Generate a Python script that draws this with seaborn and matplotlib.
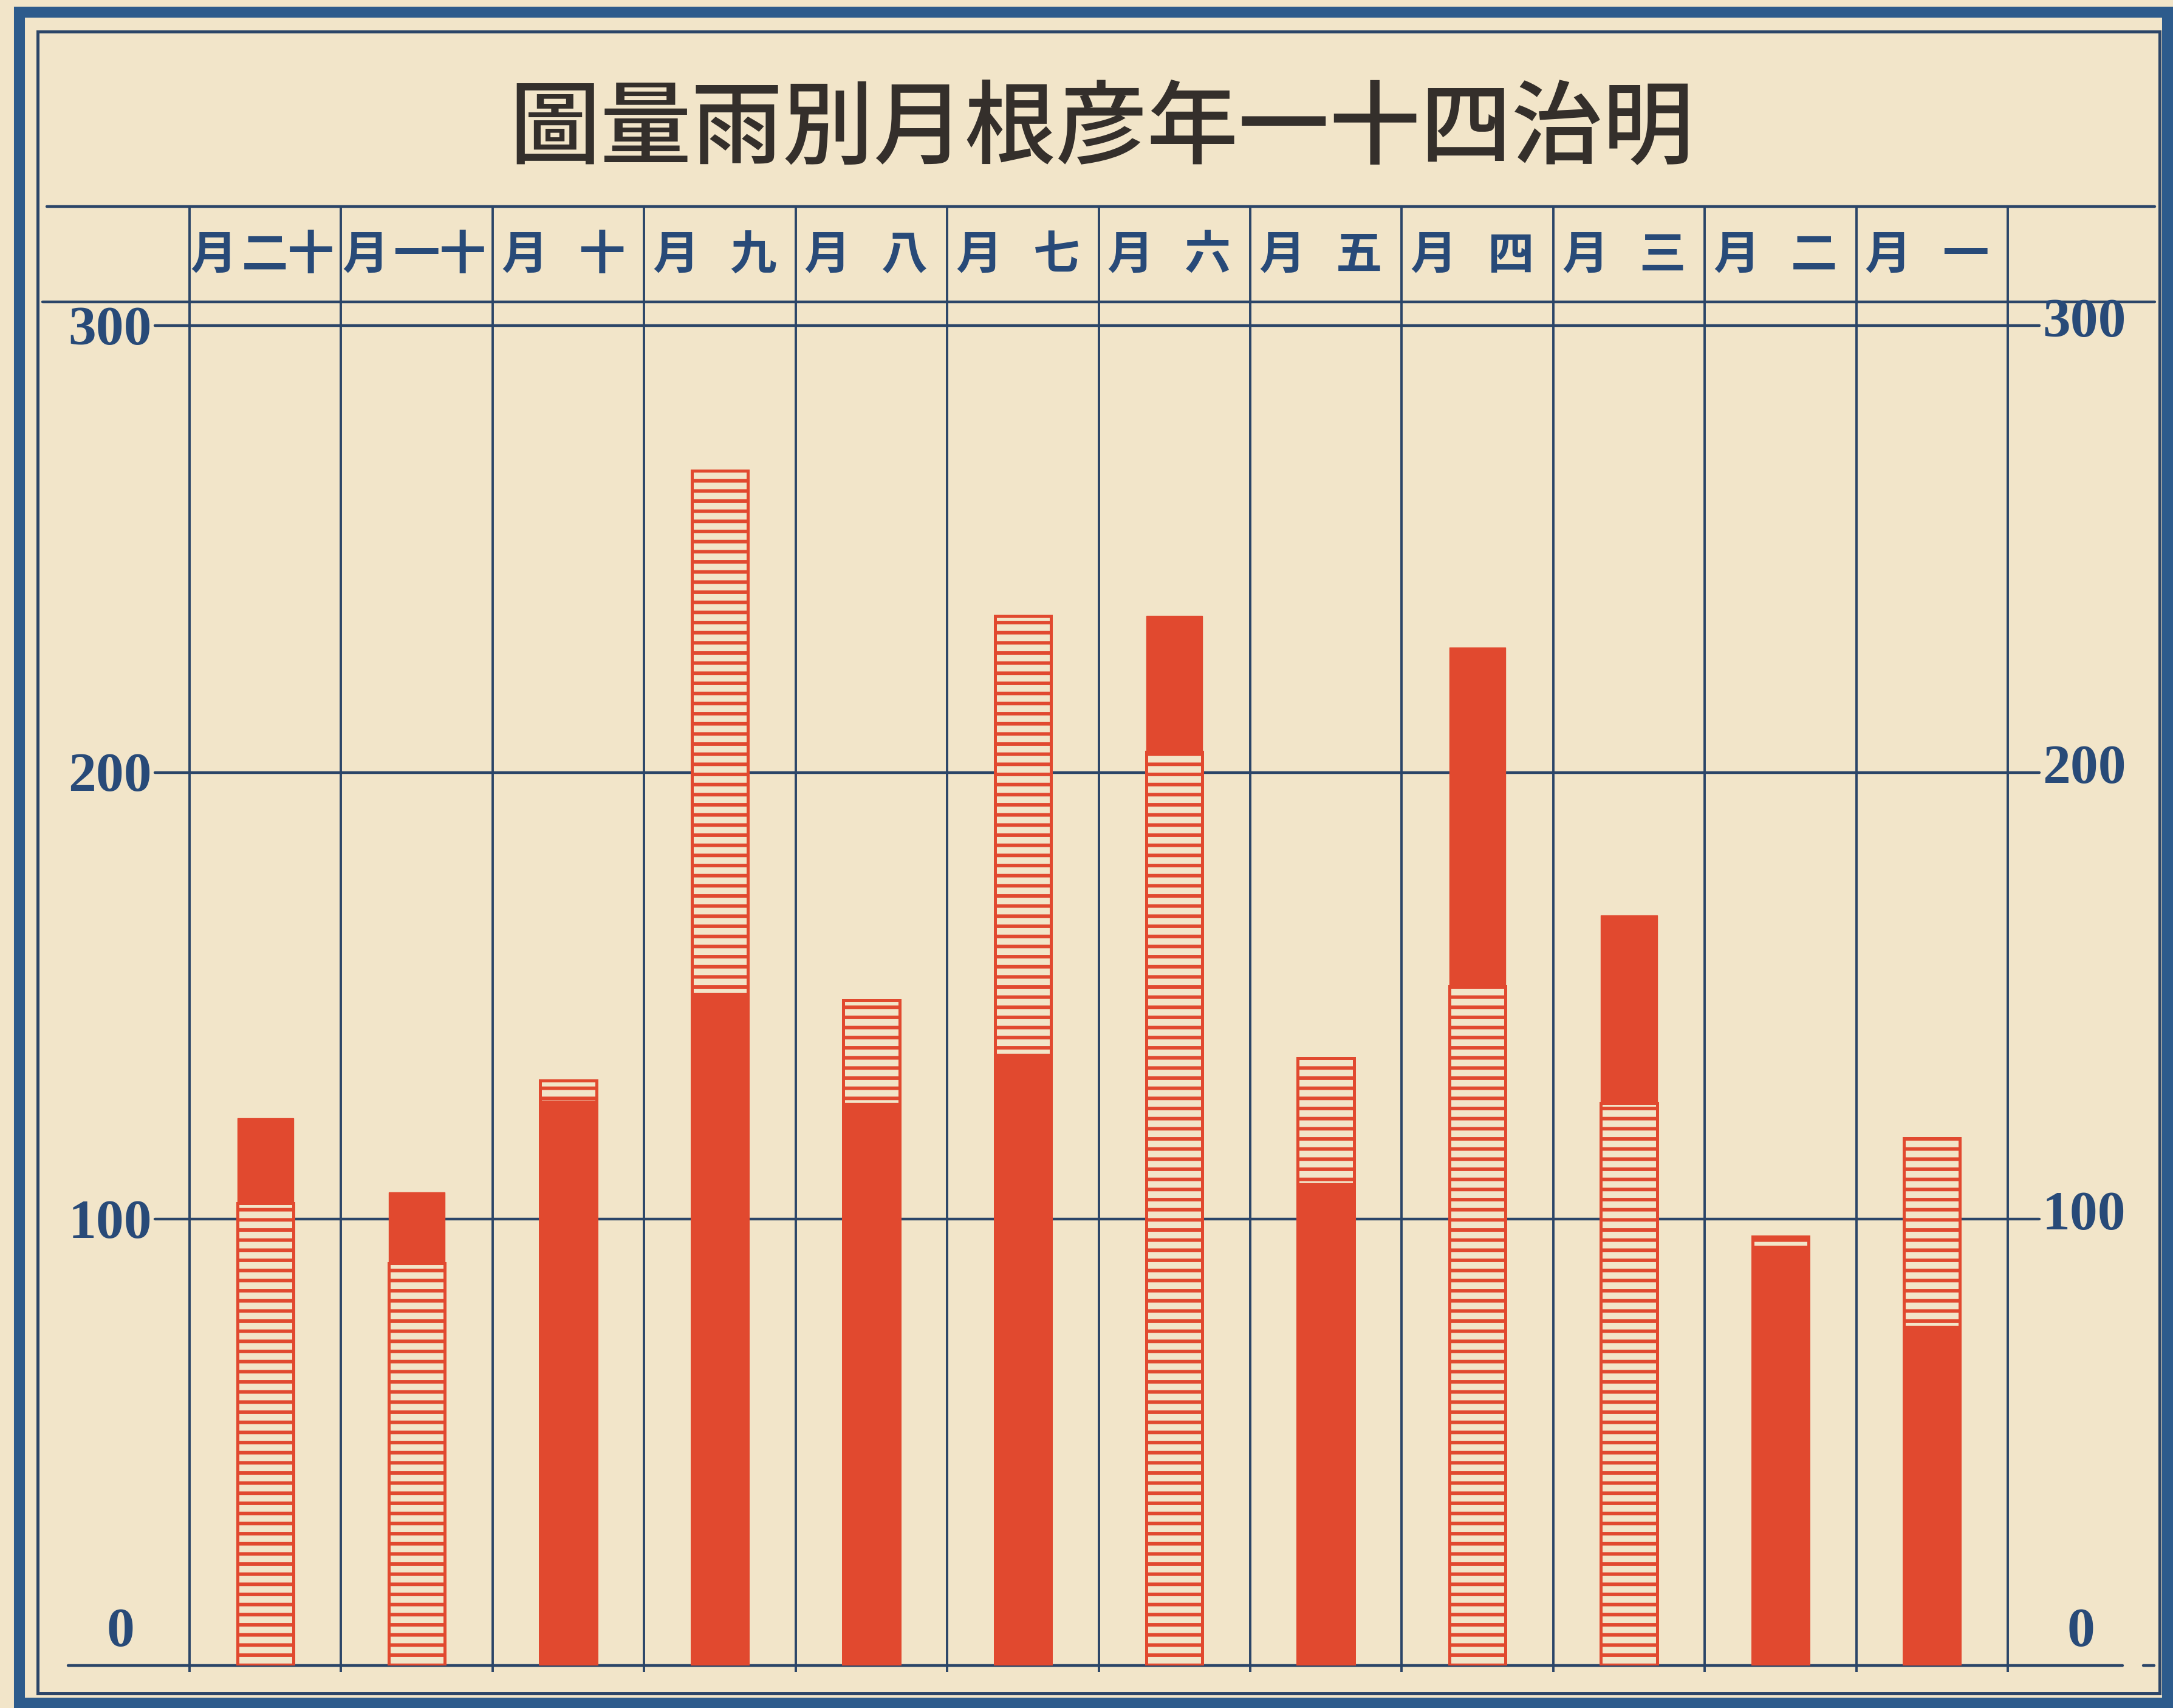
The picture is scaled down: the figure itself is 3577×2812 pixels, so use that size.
"""
明治四十一年 彦根 月別雨量圖 の再現
"""
import numpy as np
import pandas as pd
import matplotlib
matplotlib.use('Agg')
import matplotlib.pyplot as plt
import seaborn as sns
from matplotlib.patches import Rectangle
from matplotlib.transforms import blended_transform_factory

# --- データ（一月〜十二月） ---
months = ['一月', '二月', '三月', '四月', '五月', '六月',
          '七月', '八月', '九月', '十月', '十一月', '十二月']
solid_vals = [76, 94, 168, 228, 108, 235, 137, 126, 150.5, 126.5, 106, 122.5]
hatched_vals = [118, 96, 126, 152, 136, 204.5, 235, 149, 267.5, 131, 90, 103.5]
ytick_vals = [0, 100, 200, 300]
ytick_labels = ['0', '100', '200', '300']
title = '明治四十一年彦根月別雨量圖'

# 図は右から左へ読む
order = months[::-1]

# --- 色 ---
paper = '#f2e5c9'
red = '#e1492f'
ink_blue = '#2b4568'
frame_blue = '#2d5b8c'
label_blue = '#284a78'
title_ink = '#342f2b'

sns.set_style('white')
plt.rcParams['font.family'] = ['Noto Sans CJK JP', 'DejaVu Sans']
plt.rcParams['hatch.linewidth'] = 4.2

df = pd.DataFrame({'month': months, 'solid': solid_vals, 'hatched': hatched_vals})

W, H = 3577, 2812
fig = plt.figure(figsize=(W / 100, H / 100), dpi=100, facecolor=paper)

def fx(px):
    return px / W

def fy(py):
    return 1 - py / H

top_val = 326.7
ax = fig.add_axes([fx(312), fy(2742), fx(3305) - fx(312), fy(340) - fy(2742)])
ax.set_facecolor(paper)

# 横線の縞の棒と赤塗りの棒
sns.barplot(data=df, x='month', y='hatched', order=order, width=0.37,
            color=paper, saturation=1, edgecolor=red, linewidth=3.6,
            hatch='-', errorbar=None, ax=ax)
sns.barplot(data=df, x='month', y='solid', order=order, width=0.37,
            color=red, saturation=1, edgecolor=red, linewidth=1,
            errorbar=None, ax=ax)

# 小さい方を前に
n = len(order)
hatch_patches = ax.patches[:n]
solid_patches = ax.patches[n:2 * n]
for i, m in enumerate(order):
    row = df[df['month'] == m].iloc[0]
    if row['solid'] < row['hatched']:
        solid_patches[i].set_zorder(4)
        hatch_patches[i].set_zorder(3)
    else:
        solid_patches[i].set_zorder(3)
        hatch_patches[i].set_zorder(4)

ax.set_xlim(-0.5, n - 0.5)
ax.set_ylim(0, top_val)
ax.set_xlabel('')
ax.set_ylabel('')
ax.set_xticks([])
ax.set_yticks([])
for s in ax.spines.values():
    s.set_visible(False)

# --- 罫線 ---
tr = blended_transform_factory(fig.transFigure, ax.transData)
line_kw = dict(color=ink_blue, lw=3.2, clip_on=False, transform=tr, zorder=2)
ax.plot([fx(77), fx(3547)], [top_val, top_val], **line_kw)
ax.plot([fx(70), fx(3547)], [305.3, 305.3], **line_kw)
for v in ytick_vals[1:]:
    ax.plot([fx(255), fx(3357)], [v, v], **line_kw)
ax.plot([fx(112), fx(3494)], [0, 0], **line_kw)
ax.plot([fx(3528), fx(3546)], [0, 0], **line_kw)

ax.vlines(np.arange(-0.5, n), -1.5, top_val, color=ink_blue, lw=2.8,
          clip_on=False, zorder=2)

# --- 月の見出し ---
for i, m in enumerate(order):
    num = m[:-1][::-1]
    if len(num) == 2:
        x_m, x_n = i - 0.34, i + 0.15
    else:
        x_m, x_n = i - 0.29, i + 0.22
    ax.text(x_m, 315.8, '月', ha='center', va='center', fontsize=55,
            fontweight='bold', color=label_blue)
    ax.text(x_n, 315.8, num, ha='center', va='center', fontsize=55,
            fontweight='bold', color=label_blue)

# --- 目盛りの数字 ---
num_kw = dict(fontsize=66, color=label_blue, transform=tr,
              family=['Liberation Serif', 'DejaVu Serif'], fontweight='bold')
for v, lab in zip(ytick_vals, ytick_labels):
    if v == 0:
        ax.text(fx(198), 7.3, lab, ha='center', va='center', **num_kw)
        ax.text(fx(3425), 7.3, lab, ha='center', va='center', **num_kw)
    else:
        ax.text(fx(250), v - 1.2, lab, ha='right', va='center', **num_kw)
        ax.text(fx(3362), v + 0.6, lab, ha='left', va='center', **num_kw)

# --- 表題 ---
fig.text(fx(1813), fy(214), title[::-1], ha='center', va='center',
         fontsize=108, fontweight='medium', color=title_ink)

# --- 枠 ---
fig.add_artist(Rectangle((fx(32), fy(2804)), fx(3568) - fx(32), fy(20) - fy(2804),
                         fill=False, lw=13, edgecolor=frame_blue,
                         transform=fig.transFigure))
fig.add_artist(Rectangle((fx(62), fy(2788)), fx(3555) - fx(62), fy(52) - fy(2788),
                         fill=False, lw=3.6, edgecolor=ink_blue,
                         transform=fig.transFigure))

fig.savefig('out.png', dpi=100, facecolor=paper)
